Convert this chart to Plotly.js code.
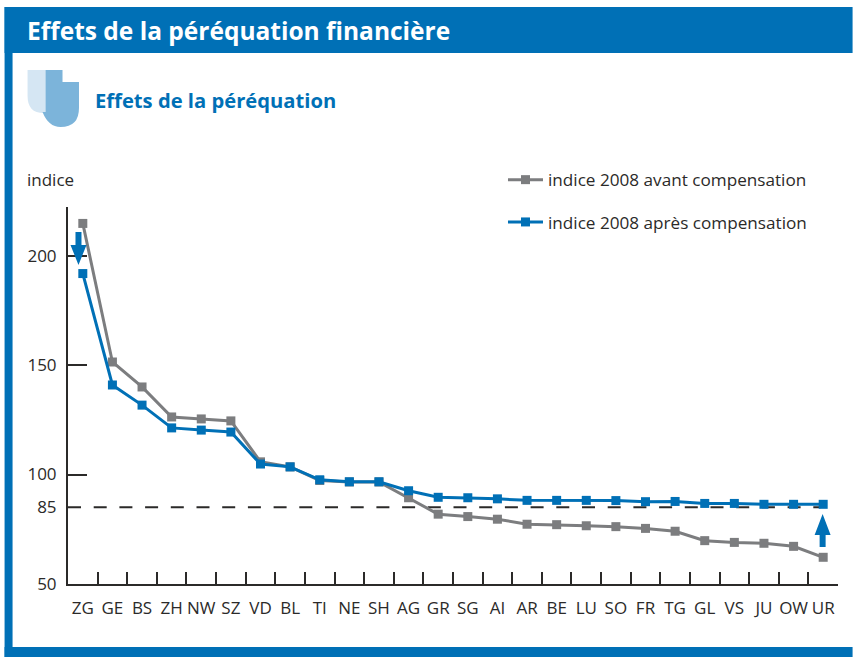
<!DOCTYPE html>
<html><head><meta charset="utf-8">
<script src="https://cdn.plot.ly/plotly-3.0.1.min.js"></script>
<style>html,body{margin:0;padding:0;background:#fff}#c{width:853px;height:657px}</style>
</head><body><div id="c"></div>
<script>
const cantons = ["ZG","GE","BS","ZH","NW","SZ","VD","BL","TI","NE","SH","AG","GR","SG","AI","AR","BE","LU","SO","FR","TG","GL","VS","JU","OW","UR"];
const avant = [214.7,151.4,140,126.3,125.4,124.5,105.8,103.5,97.3,96.6,96.6,89.4,81.9,80.8,79.6,77.3,77.1,76.6,76.2,75.4,74.1,69.8,69,68.6,67.2,62.2];
const apres = [191.8,140.9,131.7,121.3,120.3,119.4,104.8,103.5,97.6,96.7,96.7,92.6,89.6,89.4,88.9,88.2,88.2,88.2,88.1,87.6,87.7,86.8,86.8,86.4,86.4,86.4];
const yTickLabels = [50,85,100,150,200];
const yTickMarks = [100,150,200];
const seriesNames = ["indice 2008 avant compensation","indice 2008 après compensation"];

const W=853,H=657,L=67.5,R=838.4,T=207,B=584;
const BLUE="#0070b6",GRAY="#7c7d7f",INK="#2b2a29",FONT="'Open Sans','Noto Sans',sans-serif";
const px=x=>(x-L)/(R-L), py=y=>(B-y)/(B-T);
const P=(pts)=>pts.map((p,i)=>(i?"L":"M")+px(p[0])+","+py(p[1])).join(" ")+" Z";
const rect=(x0,y0,x1,y1,c)=>({type:"rect",xref:"paper",yref:"paper",x0:px(x0),x1:px(x1),y0:py(y0),y1:py(y1),fillcolor:c,line:{width:0},layer:"below"});
const arrow=(cx,tip,base,end)=>({type:"path",xref:"paper",yref:"paper",layer:"above",fillcolor:BLUE,line:{width:0},
  path:P([[cx,tip],[cx+8,base],[cx+3,base],[cx+3,end],[cx-3,end],[cx-3,base],[cx-8,base]])});
const logoLight={type:"path",xref:"paper",yref:"paper",layer:"below",fillcolor:"#d5e6f3",line:{width:0},
  path:`M${px(27)},${py(70)} L${px(45)},${py(70)} L${px(45)},${py(113)} Q${px(27)},${py(114)} ${px(27)},${py(96)} Z`};
const logoDark={type:"path",xref:"paper",yref:"paper",layer:"below",fillcolor:"#7cb4da",line:{width:0},
  path:`M${px(45)},${py(70)} L${px(62)},${py(70)} L${px(62)},${py(82)} L${px(78.5)},${py(82)} L${px(78.5)},${py(108)} Q${px(78.5)},${py(127)} ${px(60)},${py(127)} Q${px(48)},${py(127)} ${px(42)},${py(112)} L${px(45)},${py(112)} Z`};

const tr=(y,c,n)=>({type:"scatter",mode:"lines+markers",x:cantons,y:y,name:n,legendgroup:n,
  line:{color:c,width:3},marker:{symbol:"square",size:9,color:c}});

const layout={
  width:W,height:H,showlegend:true,paper_bgcolor:"#fff",plot_bgcolor:"rgba(0,0,0,0)",
  margin:{l:L,r:W-R,t:T,b:H-B,pad:0},
  font:{family:FONT,color:INK,size:17},
  title:{text:"Effets de la péréquation financière",font:{family:FONT,size:24.5,color:"#fff",weight:700},
    xref:"container",yref:"container",x:27/W,xanchor:"left",y:1-31/H,yanchor:"middle",automargin:false,pad:{t:0,b:0,l:0,r:0}},
  xaxis:{type:"category",range:[-0.5,25.5],tickson:"boundaries",ticks:"inside",ticklen:12,tickwidth:2,tickcolor:INK,
    showline:true,linecolor:INK,linewidth:2,showgrid:false,zeroline:false,fixedrange:true,tickangle:0,ticklabelstandoff:8,
    tickfont:{size:17,color:INK}},
  yaxis:{range:[50,222.2],tickmode:"array",tickvals:yTickLabels,ticktext:yTickLabels.map(String),ticks:"",
    minor:{tickmode:"array",tickvals:yTickMarks,ticks:"inside",ticklen:19,tickwidth:2,tickcolor:INK,showgrid:false},
    showline:true,linecolor:INK,linewidth:2,showgrid:false,zeroline:false,fixedrange:true,ticklabelstandoff:6,
    tickfont:{size:17,color:INK}},
  legend:{x:px(503),xanchor:"left",y:py(162),yanchor:"top",bgcolor:"rgba(0,0,0,0)",borderwidth:0,
    font:{size:17.15,color:INK},itemwidth:35,tracegroupgap:17,traceorder:"grouped"},
  shapes:[
    rect(4,7,W,53,BLUE),rect(4,7,12,H,BLUE),rect(4,647,W,H,BLUE),
    logoLight,logoDark,
    {type:"line",xref:"paper",yref:"y",x0:0,x1:px(821),y0:85,y1:85,layer:"below",line:{color:INK,width:2,dash:"13px,12.7px"}},
    arrow(78,265,245,232),arrow(823,514,535,547)
  ],
  annotations:[
    {xref:"paper",yref:"paper",x:px(93),y:py(100),xanchor:"left",yanchor:"middle",showarrow:false,align:"left",
     text:"Effets de la péréquation",font:{family:FONT,size:20.2,color:BLUE,weight:700}},
    {xref:"paper",yref:"paper",x:px(24.5),y:py(179),xanchor:"left",yanchor:"middle",showarrow:false,
     text:"indice",font:{size:17,color:INK}}
  ]
};
Plotly.newPlot("c",[tr(avant,GRAY,seriesNames[0]),tr(apres,BLUE,seriesNames[1])],layout,{displayModeBar:false,staticPlot:true});
</script></body></html>
